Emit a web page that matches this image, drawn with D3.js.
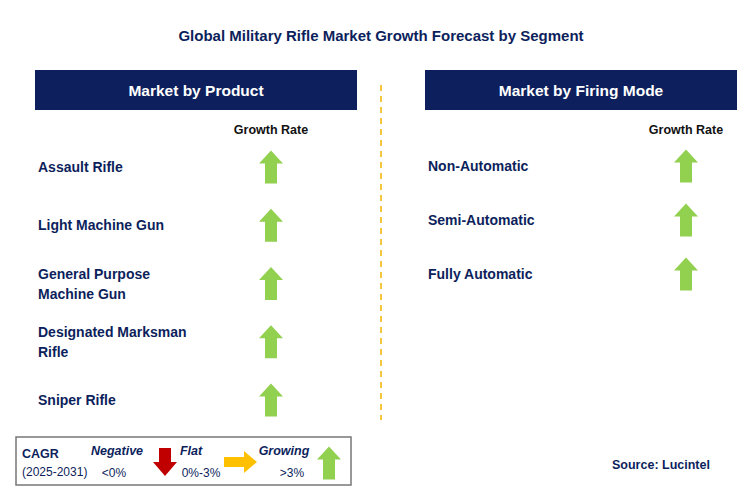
<!DOCTYPE html><html><head><meta charset="utf-8"><script src="https://cdn.jsdelivr.net/npm/d3@7"></script>
<style>body{margin:0;background:#fff}text{font-family:"Liberation Sans",Arial,sans-serif}</style></head><body>
<svg id="c" width="747" height="503"></svg>
<script>
const productCategories=[["Assault Rifle"],["Light Machine Gun"],["General Purpose","Machine Gun"],["Designated Marksman","Rifle"],["Sniper Rifle"]];
const productGrowth=["Growing","Growing","Growing","Growing","Growing"];
const firingCategories=[["Non-Automatic"],["Semi-Automatic"],["Fully Automatic"]];
const firingGrowth=["Growing","Growing","Growing"];
const legendLabels=["Negative","Flat","Growing"];
const legendRanges=["<0%","0%-3%",">3%"];
const navy="#0d1f5c",txt="#1f2d5a",green="#92d050";
const svg=d3.select("#c");
svg.append("text").attr("x",381).attr("y",41).attr("text-anchor","middle").attr("font-size",15).attr("font-weight","bold").attr("fill",navy).text("Global Military Rifle Market Growth Forecast by Segment");
svg.append("line").attr("x1",381).attr("x2",381).attr("y1",85).attr("y2",420).attr("stroke","#f0b400").attr("stroke-width",1.5).attr("stroke-dasharray","6,5");
function up(g,cx,cy,col){const w=24,h=33,sw=12,hh=13;
 g.append("path").attr("d",`M${cx},${cy-h/2}L${cx+w/2},${cy-h/2+hh}L${cx+sw/2},${cy-h/2+hh}L${cx+sw/2},${cy+h/2}L${cx-sw/2},${cy+h/2}L${cx-sw/2},${cy-h/2+hh}L${cx-w/2},${cy-h/2+hh}Z`).attr("fill",col);}
function panel(x0,x1,title,cats,vals,ax,y0,y1){
 svg.append("rect").attr("x",x0).attr("y",70).attr("width",x1-x0).attr("height",40).attr("fill",navy);
 svg.append("text").attr("x",(x0+x1)/2).attr("y",96).attr("text-anchor","middle").attr("fill","#fff").attr("font-size",15.5).attr("font-weight","bold").text(title);
 svg.append("text").attr("x",ax).attr("y",134).attr("text-anchor","middle").attr("font-size",12.5).attr("font-weight","bold").attr("fill","#111").text("Growth Rate");
 const y=d3.scalePoint().domain(d3.range(cats.length)).range([y0,y1]);
 cats.forEach((c,i)=>{const t=svg.append("text").attr("x",x0+3).attr("font-size",14).attr("font-weight","bold").attr("fill",navy);
  c.forEach((l,j)=>t.append("tspan").attr("x",x0+3).attr("y",y(i)+5+(j-(c.length-1)/2)*20).text(l));
  if(vals[i]==="Growing")up(svg,ax,y(i),green);});
}
panel(35,357,"Market by Product",productCategories,productGrowth,271,167,400);
panel(425,737,"Market by Firing Mode",firingCategories,firingGrowth,686,166,274);
const lg=svg.append("g");
lg.append("rect").attr("x",16).attr("y",437).attr("width",335).attr("height",48).attr("fill","#fff").attr("stroke","#777").attr("stroke-width",1.5);
lg.append("text").attr("x",22).attr("y",458).attr("font-size",12.5).attr("font-weight","bold").attr("fill",navy).text("CAGR");
lg.append("text").attr("x",22).attr("y",476).attr("font-size",12).attr("fill",navy).text("(2025-2031)");
const lx=[117,191,284];
legendLabels.forEach((l,i)=>{lg.append("text").attr("x",lx[i]).attr("y",455).attr("text-anchor","middle").attr("font-size",12.5).attr("font-weight","bold").attr("font-style","italic").attr("fill",navy).text(l);
 lg.append("text").attr("x",lx[i]+(i==0?-3:i==1?10:8)).attr("y",477).attr("text-anchor","middle").attr("font-size",12).attr("fill",navy).text(legendRanges[i]);});
lg.append("path").attr("d","M159,448L171,448L171,462L177,462L165,476L153,462L159,462Z").attr("fill","#c00000");
lg.append("path").attr("d","M224,457L244,457L244,451L257,462L244,473L244,467L224,467Z").attr("fill","#ffc000");
up(lg,329,463,green);
svg.append("text").attr("x",612).attr("y",469).attr("font-size",12.5).attr("font-weight","bold").attr("fill",navy).text("Source: Lucintel");
</script></body></html>
